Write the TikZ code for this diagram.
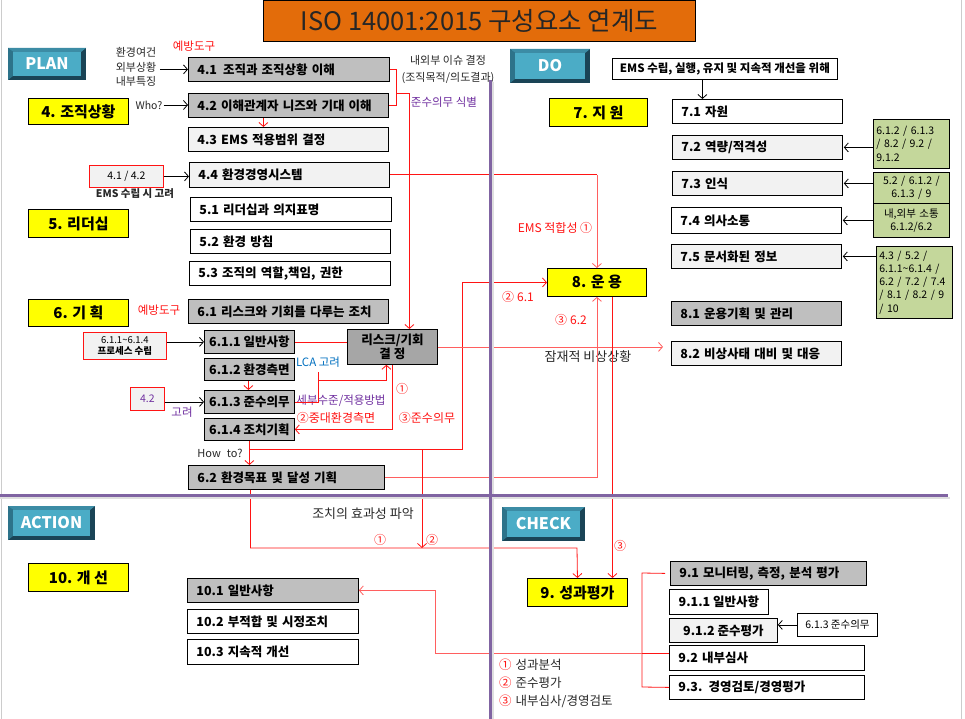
\documentclass[tikz,border=0pt]{standalone}
\usepackage{fontspec}
\setmainfont{Noto Sans CJK KR}
\usetikzlibrary{arrows.meta}
\definecolor{redc}{RGB}{255,20,20}
\definecolor{pinkc}{RGB}{255,95,95}
\definecolor{gryA}{RGB}{191,191,191}
\definecolor{gryB}{RGB}{242,242,242}
\definecolor{gryC}{RGB}{166,166,166}
\definecolor{grn}{RGB}{196,215,155}
\definecolor{purp}{RGB}{128,100,162}
\definecolor{purpt}{RGB}{112,48,160}
\definecolor{bluet}{RGB}{0,112,192}
\definecolor{orng}{RGB}{227,108,10}
\definecolor{yel}{RGB}{255,255,0}
\definecolor{btnA}{RGB}{75,172,198}
\definecolor{btnD}{RGB}{26,68,86}
\definecolor{btnT}{RGB}{60,140,165}
\definecolor{btnS}{RGB}{45,115,138}
\definecolor{txtd}{RGB}{40,40,40}
\newcommand\myfb{\fontsize{12.5}{14}\selectfont\bfseries}
\newcommand\myfs{\fontsize{12}{14}\selectfont}
\newcommand\myfsm{\fontsize{10.5}{12}\selectfont}
\newcommand\myfg{\fontsize{10.5}{13.3}\selectfont}
\newcommand\myfy{\fontsize{15}{17}\selectfont\bfseries}
\newcommand\myft{\fontsize{25.5}{28}\selectfont}
\newcommand\myfbtn{\fontsize{16}{18}\selectfont\bfseries}
\newcommand\mybox[8][]{%
 \pgfmathsetmacro\mytw{#6-#4-18}%
 \pgfmathsetmacro\myht{#7-#5}%
 \node[bx,fill=#3,text width=\mytw pt,minimum height=\myht pt,#1] (#2) at (#4,#5) {#8};}
\newcommand\mycbox[7]{%
 \pgfmathsetmacro\mytw{#5-#3}%
 \pgfmathsetmacro\myht{#6-#4}%
 \node[bx,fill=#2,inner xsep=0pt,align=center,minimum width=\mytw pt,minimum height=\myht pt] (#1) at (#3,#4) {#7};}
\newcommand\myyel[6]{%
 \pgfmathsetmacro\mytw{#4-#2}%
 \pgfmathsetmacro\myht{#5-#3}%
 \node[ylw,minimum width=\mytw pt,minimum height=\myht pt] (#1) at (#2,#3) {#6};}
\newcommand\mygrn[7][]{%
 \pgfmathsetmacro\mytw{#5-#3-6}%
 \pgfmathsetmacro\myht{#6-#4}%
 \node[grb,text width=\mytw pt,minimum height=\myht pt,#1] (#2) at (#3,#4) {#7};}
\newcommand\mybtn[6]{%
 \fill[btnD] (#2,#3) rectangle (#4,#5);
 \fill[btnT] (#2,#3) -- (#4,#3) -- ({#4-5},{#3+4}) -- ({#2+5},{#3+4}) -- cycle;
 \fill[btnS] (#2,#3) -- ({#2+5},{#3+4}) -- ({#2+5},{#5-4}) -- (#2,#5) -- cycle;
 \node[fill=btnA, inner sep=0pt, minimum width={#4-#2-10}, minimum height={#5-#3-8}, text=white, font=\myfbtn] (#1) at ({(#2+#4)/2},{(#3+#5)/2}) {#6};}
\begin{document}
\begin{tikzpicture}[x=1pt,y=-1pt,
 bx/.style={draw=black, line width=0.8pt, anchor=north west, inner xsep=9pt, inner ysep=0pt, font=\myfb, align=left},
 ylw/.style={draw=black, line width=0.9pt, fill=yel, anchor=north west, inner sep=0pt, font=\myfy},
 grb/.style={draw=black, line width=0.8pt, fill=grn, anchor=north west, inner xsep=3pt, inner ysep=0pt, font=\myfg, align=left},
 rbx/.style={draw=redc, line width=0.8pt, fill=gryB, anchor=north west, inner sep=0pt, align=center},
 lbl/.style={inner sep=0pt, font=\myfs, text=txtd},
 rlb/.style={inner sep=0pt, font=\myfs, text=redc},
 rl/.style={draw=redc, line width=0.8pt},
 pl/.style={draw=pinkc, line width=0.8pt},
 myarr/.style={-{Straight Barb[length=4pt,width=9pt]}},
 bk/.style={draw=black, line width=0.8pt, -{Straight Barb[length=4pt,width=9pt]}},
]
\useasboundingbox (0,0) rectangle (965,719);
\fill[white] (0,0) rectangle (965,719);
\draw[gray!40, line width=1pt] (1.5,0) -- (1.5,719);
\draw[gray!40, line width=1pt] (961,0) -- (961,719);

% title
\node[draw={RGB:red,65;green,113;blue,156}, line width=0.8pt, fill=orng, anchor=north west, minimum width=432pt, minimum height=41pt, inner sep=0pt, font=\myft, text=black!85] (title) at (263,0) {ISO 14001:2015 구성요소 연계도};

% buttons
\mybtn{plan}{8}{48}{86}{80}{PLAN}
\mybtn{do}{510}{49}{590}{83}{DO}
\mybtn{act}{8}{506}{95}{540}{ACTION}
\mybtn{chk}{502}{507}{585}{541}{CHECK}

% yellow headings
\myyel{y4}{28}{98}{128}{124}{4. 조직상황}
\myyel{y5}{28}{209}{128}{237}{5. 리더십}
\myyel{y6}{28}{299}{128}{326}{6. 기 획}
\myyel{y7}{549}{98}{647}{126}{7. 지 원}
\myyel{y8}{547}{268}{646}{296}{8. 운 용}
\myyel{y9}{527}{578}{627}{606}{9. 성과평가}
\myyel{y10}{28}{563}{128}{591}{10. 개 선}

% PLAN boxes
\mybox{n41}{gryA}{188}{57}{389}{81}{4.1\hspace{6pt}조직과 조직상황 이해}
\mybox{n42}{gryA}{188}{93}{388}{117}{4.2 이해관계자 니즈와 기대 이해}
\mybox{n43}{gryB}{188}{127}{388}{151}{4.3 EMS 적용범위 결정}
\mybox{n44}{gryB}{189}{162}{389}{187}{4.4 환경경영시스템}
\mybox{n51}{white}{190}{197}{391}{221}{5.1 리더십과 의지표명}
\mybox{n52}{white}{190}{229}{390}{253}{5.2 환경 방침}
\mybox{n53}{white}{189}{261}{390}{285}{5.3 조직의 역할,책임, 권한}
\mybox{n61}{gryA}{188}{299}{388}{323}{6.1 리스크와 기회를 다루는 조치}
\mycbox{n611}{gryA}{204}{330}{294}{353}{6.1.1 일반사항}
\mycbox{n612}{gryA}{204}{358}{294}{380}{6.1.2 환경측면}
\mycbox{n613}{gryA}{204}{390}{294}{413}{6.1.3 준수의무}
\mycbox{n614}{gryA}{204}{418}{294}{440}{6.1.4 조치기획}
\mycbox{nrisk}{gryC}{347}{329}{437}{364}{리스크/기회\\결 정}
\mybox{n62}{gryA}{188}{465}{384}{489}{6.2 환경목표 및 달성 기획}

% DO boxes
\node[draw=black, line width=0.8pt, fill=white, anchor=north west, minimum width=225pt, minimum height=21pt, inner sep=0pt, font=\fontsize{11.5}{13}\selectfont\bfseries] (nems) at (612,58) {EMS 수립, 실행, 유지 및 지속적 개선을 위해};
\mybox{n71}{white}{672}{99}{842}{123}{7.1 자원}
\mybox{n72}{gryB}{672}{135}{842}{159}{7.2 역량/적격성}
\mybox{n73}{gryB}{672}{171}{842}{195}{7.3 인식}
\mybox{n74}{white}{671}{207}{841}{233}{7.4 의사소통}
\mybox{n75}{gryB}{671}{244}{841}{268}{7.5 문서화된 정보}
\mybox{n81}{gryA}{671}{301}{841}{325}{8.1 운용기획 및 관리}
\mybox{n82}{gryB}{671}{341}{841}{365}{8.2 비상사태 대비 및 대응}
\mygrn{g1}{873}{119}{949}{168}{6.1.2 / 6.1.3\\/ 8.2 / 9.2 /\\9.1.2}
\mygrn[align=center]{g2}{873}{172}{949}{203}{5.2 / 6.1.2 /\\6.1.3 / 9}
\mygrn[align=center]{g3}{873}{203}{949}{237}{내,외부 소통\\6.1.2/6.2}
\mygrn{g4}{876}{246}{952}{318}{4.3 / 5.2 /\\6.1.1\textasciitilde6.1.4 /\\6.2 / 7.2 / 7.4\\/ 8.1 / 8.2 / 9\\/ 10}

% CHECK boxes
\mybox{n91}{gryA}{670}{561}{866}{585}{9.1 모니터링, 측정, 분석 평가}
\mycbox{n911}{white}{669}{589}{768}{614}{9.1.1 일반사항}
\mycbox{n912}{gryB}{669}{618}{777}{642}{9.1.2 준수평가}
\mybox{n92}{white}{669}{645}{864}{670}{9.2 내부심사}
\mybox{n93}{white}{669}{675}{864}{699}{9.3. 경영검토/경영평가}
\node[draw=black, line width=0.8pt, fill=white, anchor=north west, minimum width=80pt, minimum height=23pt, inner sep=0pt, font=\myfsm] (n6133) at (797,613) {6.1.3 준수의무};

% ACTION boxes
\mybox{n101}{gryA}{187}{578}{358}{602}{10.1 일반사항}
\mybox{n102}{white}{187}{609}{358}{633}{10.2 부적합 및 시정조치}
\mybox{n103}{white}{187}{639}{358}{664}{10.3 지속적 개선}

% red-bordered input boxes
\node[rbx, minimum width=74pt, minimum height=22pt, font=\myfsm] (n4142) at (89,165) {4.1 / 4.2};
\node[rbx, minimum width=83pt, minimum height=27pt, font=\fontsize{9.5}{11.5}\selectfont] (n6114) at (83,332) {6.1.1\textasciitilde6.1.4\\\bfseries 프로세스 수립};
\node[rbx, minimum width=34pt, minimum height=23pt, font=\myfsm, text=purpt] (n42b) at (130,387) {4.2};

% labels
\node[lbl, font=\fontsize{11}{14.5}\selectfont, align=center] (tenv) at (136,67) {환경여건\\외부상황\\내부특징};
\node[rlb, font=\fontsize{11.5}{13}\selectfont] (tprev1) at (194,46) {예방도구};
\node[lbl, font=\fontsize{10.5}{12}\selectfont] (twho) at (149,105) {Who?};
\node[lbl, font=\fontsize{11}{17}\selectfont, align=center] (tissue) at (448,70) {내외부 이슈 결정\\(조직목적/의도결과)};
\node[lbl, text=purpt, font=\fontsize{11.5}{13}\selectfont] (tcomp) at (444,102) {준수의무 식별};
\node[rlb] (temsfit) at (555,228) {EMS 적합성 ①};
\node[lbl, font=\fontsize{10.5}{12}\selectfont\bfseries] (temsc) at (135,194) {EMS 수립 시 고려};
\node[rlb, font=\fontsize{11.5}{13}\selectfont] (tprev2) at (159,310) {예방도구};
\node[lbl, text=bluet, font=\fontsize{11.5}{13}\selectfont] (tlca) at (318,362) {LCA 고려};
\node[lbl, text=purpt, font=\fontsize{11.5}{13}\selectfont] (tdet) at (341,401) {세부수준/적용방법};
\node[rlb] (tc1) at (402,389) {①};
\node[rlb] (tc2) at (336,418) {②중대환경측면};
\node[rlb] (tc3) at (427,418) {③준수의무};
\node[lbl, text=purpt, font=\fontsize{11.5}{13}\selectfont] (tgo) at (182,412) {고려};
\node[lbl, font=\fontsize{11}{12}\selectfont] (thow) at (220,453) {How\hspace{6pt}to?};
\node[rlb] (t61) at (518,297) {②\hspace{3pt}6.1};
\node[rlb] (t62) at (571,320) {③\hspace{3pt}6.2};
\node[lbl, font=\fontsize{13}{14}\selectfont] (tem) at (588,357) {잠재적 비상상황};
\node[lbl, font=\fontsize{13}{14}\selectfont] (teff) at (363,514) {조치의 효과성 파악};
\node[rlb] (tcA) at (380,540) {①};
\node[rlb] (tcB) at (432,540) {②};
\node[rlb] (tcC) at (620,546) {③};
\node[lbl, anchor=west, font=\fontsize{12.5}{14}\selectfont] (lg1) at (499,665) {\textcolor{redc}{①}\hspace{4pt}성과분석};
\node[lbl, anchor=west, font=\fontsize{12.5}{14}\selectfont] (lg2) at (499,683) {\textcolor{redc}{②}\hspace{4pt}준수평가};
\node[lbl, anchor=west, font=\fontsize{12.5}{14}\selectfont] (lg3) at (499,701) {\textcolor{redc}{③}\hspace{4pt}내부심사/경영검토};

% black arrows
\draw[bk] ([xshift=4pt]tenv.east |- n41.west) -- (n41.west);
\draw[bk] ([xshift=1pt]twho.east) -- (twho.east -| n42.west);
\draw[bk] (n4142.east) -- (n4142.east -| n44.west);
\draw[bk] (n6114.east |- n611.west) -- (n611.west);
\draw[bk] (n42b.east |- n613.west) -- (n613.west);
\draw[bk] ([xshift=-22.5pt]nems.south) -- ([xshift=-22.5pt]nems.south |- n71.north);
\draw[bk] (g1.west |- n72.east) -- ([xshift=1pt]n72.east);
\draw[bk] (g2.west |- n73.east) -- ([xshift=1pt]n73.east);
\draw[bk] (g3.west |- n74.east) -- ([xshift=1pt]n74.east);
\draw[bk] (g4.west |- n75.east) -- ([xshift=1pt]n75.east);
\draw[bk] (n6133.west) -- (n6133.west -| n912.east);

% red connectors
\draw[rl] (n41.east) -- ++(7,0) |- (n42.east);
\coordinate (cb) at (396,93);
\draw[rl,myarr] (cb) -| ([xshift=17pt]nrisk.north);
\draw[rl,myarr] ([xshift=-25pt]n42.south) -- ([xshift=-25pt]n43.north);
\draw[rl] (n44.east) -- (n44.east -| y8.north);
\draw[pl,myarr] (n44.east -| y8.north) -- (y8.north);
\draw[rl] (n611.east) -- (n611.east -| nrisk.west);
\draw[rl] (318,372) -- (318,380);
\draw[rl,myarr] (n613.east) -| (318,380) -| ([xshift=-6pt]nrisk.south);
\draw[rl,myarr] ([xshift=-1pt]n612.south) -- ([xshift=-1pt]n613.north);
\draw[rl,myarr] (nrisk.south) |- (n614.east);
\draw[rl,myarr] (n614.south) -- (n614.south |- n62.north);
\coordinate (h6) at (250,449);
\draw[rl,myarr] (h6) -- (462,449) |- (y8.west);
\draw[pl,myarr] (nrisk.east) -- ([xshift=-8pt]n82.west |- nrisk.east);
\draw[pl,myarr] (n62.east) -| (y8.south);
\draw[rl,myarr] (422,449) -- (422,548);
\draw[rl,myarr] ([xshift=-36pt]n62.south) |- (577,548) -- (y9.north);
\draw[rl,myarr] ([xshift=15.5pt]y8.south) -- ([xshift=15.5pt]y8.south |- y9.north);
\coordinate (b92) at (642,653);
\draw[rl] ([xshift=-5pt]n91.west) -- (642,573) -- (642,687) -- (n93.west);
\draw[rl] (b92) -- (b92 -| n92.west);
\draw[pl,myarr] (b92) -- (435,653) |- (n101.east);

% PDCA dividers
\draw[gray!25, line width=2pt] (492.5,82) -- (492.5,719);
\draw[gray!25, line width=2pt] (0,497.5) -- (950,497.5);
\draw[purp, line width=3pt] (490,80) -- (490,719);
\draw[purp, line width=3pt] (0,495) -- (948,495);
\end{tikzpicture}
\end{document}
